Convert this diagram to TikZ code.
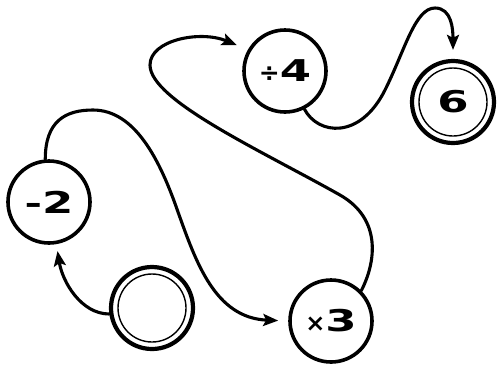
\documentclass[tikz,border=0pt]{standalone}
\usepackage{fontspec}
\newfontfamily\numfont[FakeStretch=1.5]{DejaVu Sans}
\newfontfamily\opfont{DejaVu Sans}
\usetikzlibrary{arrows.meta}
\begin{document}
\begin{tikzpicture}[x=1pt,y=-1pt,
  op/.style={circle, draw, line width=3.6pt, minimum size=82pt, inner sep=0pt,
    font=\numfont\bfseries\fontsize{30}{30}\selectfont},
  fin/.style={op, line width=4.2pt,
    path picture={\draw[line width=1.4pt] (path picture bounding box.center) circle (34pt);}},
  conn/.style={line width=3.1pt, line cap=round, -{Stealth[length=15pt,width=12pt,inset=3pt]}}]
\useasboundingbox (0,0) rectangle (497,365);
\node[op]  (m2)    at (49,202)  {{\fontsize{28}{28}\selectfont -}2};
\node[op]  (x3)    at (331,321) {{\opfont\bfseries\fontsize{24}{24}\selectfont ×}3};
\node[op]  (d4)    at (285,71)  {{\opfont\bfseries\fontsize{25}{25}\selectfont ÷}4};
\node[fin] (start) at (152,308) {};
\node[fin] (six)   at (453,102) {6};
% start -> -2
\draw[conn, shorten >=7pt] (start.188) .. controls +(-28,0) and +(6,38) .. (m2.-80);
% -2 -> x3
\draw[conn, shorten >=10pt] (m2.95) .. controls +(0,-38) and (65,110) .. (93,110)
  .. controls (135,110) and (160,160) .. (178,212)
  .. controls (196,262) and (215,318) .. (x3.west);
% x3 -> /4
\draw[conn, shorten >=12pt] (x3.45) .. controls (376,262) and (382,219) .. (340,195)
  .. controls (260,150) and (150,100) .. (150,65)
  .. controls (150,40) and (200,30) .. (d4.150);
% /4 -> 6
\draw[conn, shorten >=9pt] (d4.-63) .. controls (318,135) and (360,140) .. (385,90)
  .. controls (405,50) and (415,8) .. (435,8)
  .. controls (452,8) and (453,30) .. (six.north);
\end{tikzpicture}
\end{document}
